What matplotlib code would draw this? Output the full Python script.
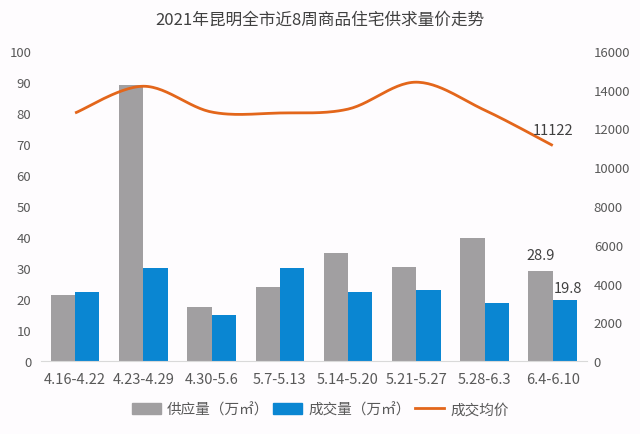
import numpy as np
import matplotlib
matplotlib.use("Agg")
import matplotlib.pyplot as plt
from matplotlib.patches import Patch
from matplotlib.lines import Line2D

plt.rcParams['font.family'] = ['Noto Sans CJK SC', 'DejaVu Sans']

categories = ["4.16-4.22", "4.23-4.29", "4.30-5.6", "5.7-5.13",
              "5.14-5.20", "5.21-5.27", "5.28-6.3", "6.4-6.10"]
supply = [21.4, 89.0, 17.5, 24.0, 34.7, 30.2, 39.6, 28.9]
deals = [22.4, 29.9, 14.7, 29.9, 22.4, 23.0, 18.6, 19.8]
price = [12800, 14180, 12850, 12800, 13000, 14390, 12950, 11122]

title = "2021年昆明全市近8周商品住宅供求量价走势"
legend_labels = ["供应量（万㎡）", "成交量（万㎡）", "成交均价"]

gray = '#a19fa1'
blue = '#0a86d2'
orange = '#e3661b'
txt = '#595959'
bg = '#fefcfe'

fig = plt.figure(figsize=(6.4, 4.35), dpi=100, facecolor=bg)
ax = fig.add_axes([0.064, 0.1678, 0.853, 0.7127], facecolor=bg)
ax2 = ax.twinx()

x = np.arange(len(categories))
w = 0.356
ax.bar(x - w / 2, supply, w, color=gray, zorder=2)
ax.bar(x + w / 2, deals, w, color=blue, zorder=2)

# Catmull-Rom smoothing (Excel-like smoothed line)
def smooth(xs, ys, n=30):
    xs = np.asarray(xs, float); ys = np.asarray(ys, float)
    px = np.concatenate([[xs[0]], xs, [xs[-1]]])
    py = np.concatenate([[ys[0]], ys, [ys[-1]]])
    ox, oy = [], []
    for i in range(1, len(px) - 2):
        p0 = np.array([px[i-1], py[i-1]]); p1 = np.array([px[i], py[i]])
        p2 = np.array([px[i+1], py[i+1]]); p3 = np.array([px[i+2], py[i+2]])
        c1 = p1 + (p2 - p0) / 6.0
        c2 = p2 - (p3 - p1) / 6.0
        t = np.linspace(0, 1, n)[:, None]
        pts = (1-t)**3 * p1 + 3*(1-t)**2*t*c1 + 3*(1-t)*t**2*c2 + t**3*p2
        ox.extend(pts[:, 0]); oy.extend(pts[:, 1])
    return ox, oy

sx, sy = smooth(x, price)
ax2.plot(sx, sy, color=orange, lw=2.0, zorder=3, solid_capstyle='butt')

ax.set_xlim(-0.5, len(categories) - 0.5)
ax.set_ylim(0, 100)
ax2.set_ylim(0, 16000)
ax.set_yticks(range(0, 101, 10))
ax2.set_yticks(range(0, 16001, 2000))
ax.set_xticks(x)
ax.set_xticklabels(categories)

for a in (ax, ax2):
    for s in a.spines.values():
        s.set_visible(False)
    a.tick_params(length=0, colors=txt, labelsize=9.5)
ax.spines['bottom'].set_visible(True)
ax.spines['bottom'].set_color('#d9d9d9')
ax.tick_params(axis='y', pad=7)
ax2.tick_params(axis='y', pad=5)
ax.tick_params(axis='x', pad=8, labelsize=10.5)
ax2.set_zorder(ax.get_zorder() + 1)
ax2.patch.set_visible(False)

ax.text(x[-1] - w / 2, supply[-1] + 3.0, "28.9", ha='center', va='bottom',
        fontsize=10.5, color='#404040', zorder=5)
ax.text(x[-1] + w / 2 + 0.05, deals[-1] + 1.5, "19.8", ha='center', va='bottom',
        fontsize=10.5, color='#404040', zorder=5)
ax2.text(x[-1], price[-1] + 450, "11122", ha='center', va='bottom',
         fontsize=10.5, color='#404040', zorder=5)

fig.text(0.5, 0.953, title, ha='center', va='center', fontsize=12, color='#404040')

handles = [Patch(color=gray), Patch(color=blue), Line2D([], [], color=orange, lw=2.0)]
fig.legend(handles, legend_labels, loc='center', bbox_to_anchor=(0.5, 0.056),
           ncol=3, frameon=False, fontsize=10.5, labelcolor=txt,
           handlelength=2.0, handleheight=0.8, columnspacing=0.3, handletextpad=0.4)

fig.savefig("out.png", dpi=100, facecolor=bg)
